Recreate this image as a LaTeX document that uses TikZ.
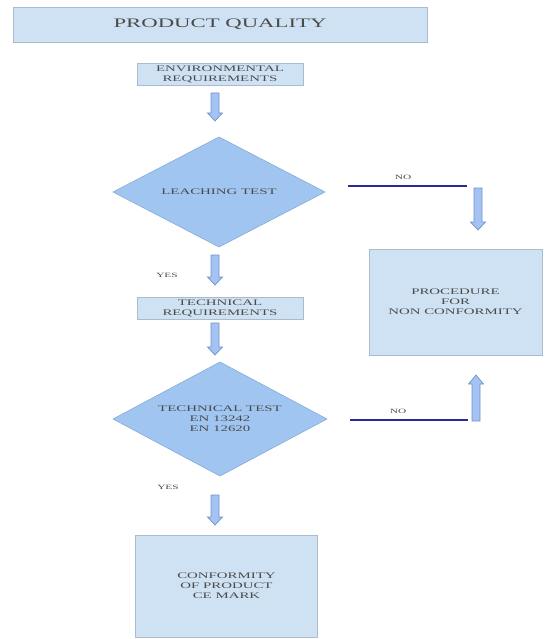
\documentclass[tikz,border=0pt]{standalone}
\usepackage{fontspec}
\setmainfont{Liberation Serif}
\newfontfamily\wfont[FakeStretch=1.75]{Liberation Serif}
\usetikzlibrary{shapes.geometric}
\definecolor{boxfill}{HTML}{CFE2F3}
\definecolor{boxdraw}{HTML}{A9BBCD}
\definecolor{diafill}{HTML}{9FC5F0}
\definecolor{diadraw}{HTML}{86ABDA}
\definecolor{arrfill}{HTML}{A4C2F4}
\definecolor{arrdraw}{HTML}{6F94C8}
\definecolor{noline}{HTML}{2A2A90}
\definecolor{txt}{HTML}{4A4A4A}
\tikzset{
  box/.style={draw=boxdraw, fill=boxfill, line width=0.8pt, inner sep=0pt, align=center,
    text=txt, font=\wfont\fontsize{8.5}{10}\selectfont},
  dia/.style={diamond, shape aspect=1.9, draw=diadraw, fill=diafill, line width=0.6pt,
    inner sep=0pt, outer sep=0pt, align=center,
    text=txt, font=\wfont\fontsize{8.5}{10}\selectfont},
  lbl/.style={text=txt, inner sep=0pt, font=\wfont\fontsize{6.5}{7}\selectfont},
  barrow/.style={draw=arrdraw, fill=arrfill, line width=0.7pt, line join=miter},
  noln/.style={draw=noline, line width=1.6pt}
}
% vertical block arrow: x, y start, y head base, y tip
\newcommand\varrowblk[4]{%
  \draw[barrow] (#1-4,#2) -- (#1+4,#2) -- (#1+4,#3) -- (#1+7.5,#3) -- (#1,#4)
    -- (#1-7.5,#3) -- (#1-4,#3) -- cycle;}
\begin{document}
\begin{tikzpicture}[x=1pt,y=-1pt]
\useasboundingbox (0,0) rectangle (547,639);
\fill[white] (0,0) rectangle (547,639);

\node[box, minimum width=414, minimum height=35,
  font=\wfont\fontsize{13}{14}\selectfont] (title) at (220,24.5) {PRODUCT QUALITY};
\node[box, minimum width=166, minimum height=22] (env) at (220,74)
  {ENVIRONMENTAL\\REQUIREMENTS};
\node[dia, minimum width=212, minimum height=110] (leach) at (219,192) {LEACHING TEST};
\node[box, minimum width=173, minimum height=106] (proc) at (455.5,302)
  {PROCEDURE\\FOR\\NON CONFORMITY};
\node[box, minimum width=166, minimum height=22] (tech) at (220,308)
  {TECHNICAL\\REQUIREMENTS};
\node[dia, minimum width=214, minimum height=114] (ttest) at (220,419)
  {TECHNICAL TEST\\EN 13242\\EN 12620};
\node[box, minimum width=182, minimum height=102] (conf) at (226.5,586)
  {CONFORMITY\\OF PRODUCT\\CE MARK};

\node[lbl] (no1) at (403,177) {NO};
\node[lbl] (yes1) at (167,275) {YES};
\node[lbl] (no2) at (398,411) {NO};
\node[lbl] (yes2) at (168,487) {YES};

\coordinate (n1a) at (348,186);
\coordinate (n1b) at (467,186);
\coordinate (n2a) at (350,420);
\coordinate (n2b) at (468,420);
\draw[noln] (n1a) -- (n1b);
\draw[noln] (n2a) -- (n2b);

\varrowblk{215}{93}{113}{121}
\varrowblk{215}{255}{277}{285}
\varrowblk{215}{323}{347}{355}
\varrowblk{215}{495}{517}{525}
\varrowblk{478}{188}{222}{230}
\varrowblk{476}{421}{384}{375}
\end{tikzpicture}
\end{document}
